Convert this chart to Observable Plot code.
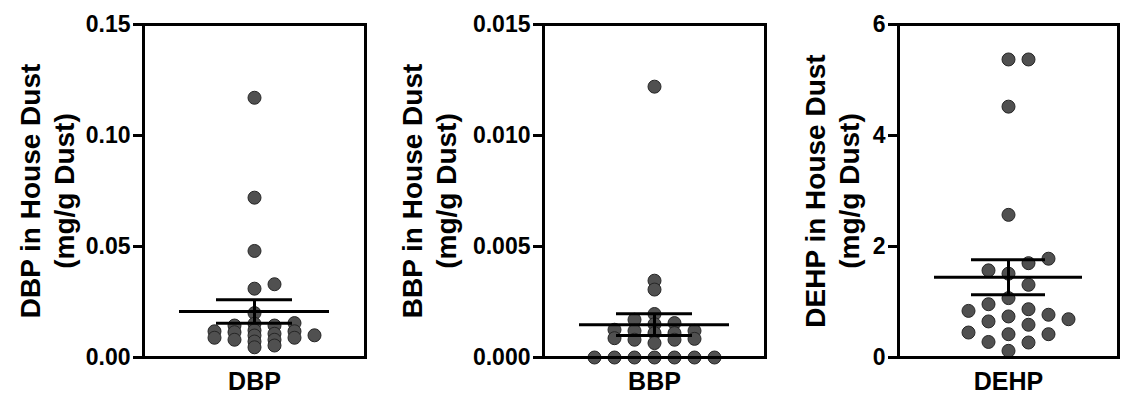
<!DOCTYPE html>
<html><head><meta charset="utf-8">
<script src="https://cdn.jsdelivr.net/npm/d3@7"></script>
<script src="https://cdn.jsdelivr.net/npm/@observablehq/plot@0.6"></script>
<style>
body{margin:0;background:#fff;}
#chart{position:relative;width:1122px;height:399px;overflow:hidden;background:#fff;}
#chart svg{position:absolute;top:0;overflow:visible;}
#chart svg g[aria-label^="y-axis"] path,#chart svg g[aria-label^="y-axis"] line{stroke-width:3px;}
#chart svg g[aria-label^="y-axis"] text{font-size:23px;font-weight:bold;}
</style></head><body><div id="chart"></div>
<script>
// ---- data ----
const compounds = ["DBP", "BBP", "DEHP"];
const yTitles = ["DBP in House Dust\n(mg/g Dust)", "BBP in House Dust\n(mg/g Dust)", "DEHP in House Dust\n(mg/g Dust)"];
const dbpValues = [0.117, 0.072, 0.048, 0.033, 0.031, 0.020,
  0.0155, 0.0152, 0.0144, 0.0144, 0.0122, 0.0118, 0.0118, 0.0114, 0.0107, 0.0100,
  0.0099, 0.0089, 0.0089, 0.0080, 0.0080, 0.0072, 0.0054, 0.0046];
const bbpValues = [0.0122, 0.00346, 0.00306, 0.00196, 0.0017, 0.00155, 0.0015,
  0.00125, 0.0012, 0.0012, 0.0011, 0.0011, 0.00087, 0.00084, 0.0008, 0.0008, 0.00065,
  0, 0, 0, 0, 0, 0, 0];
const dehpValues = [5.37, 5.37, 4.52, 2.57, 1.78, 1.70, 1.57, 1.51, 1.31, 1.07, 0.96,
  0.87, 0.84, 0.77, 0.74, 0.69, 0.65, 0.59, 0.45, 0.42, 0.42, 0.28, 0.27, 0.12];
const seriesValues = [dbpValues, bbpValues, dehpValues];
const meanValues = [0.0207, 0.00148, 1.447];
const semValues = [0.0053, 0.00049, 0.316];
const yMax = [0.15, 0.015, 6];
const tickValues = [[0, 0.05, 0.10, 0.15], [0, 0.005, 0.010, 0.015], [0, 2, 4, 6]];
const tickLabels = [["0.00", "0.05", "0.10", "0.15"], ["0.000", "0.005", "0.010", "0.015"], ["0", "2", "4", "6"]];

// ---- layout / style ----
const HEIGHT = 399, MT = 24, MB = 42;
const layout = [
  {left: 0, width: 370, marginLeft: 143, marginRight: 5, titleDx: -97, rowPx: 5, xHalf: 5.55},
  {left: 370, width: 400, marginLeft: 173, marginRight: 5, titleDx: -115, rowPx: 6, xHalf: 5.55},
  {left: 770, width: 352, marginLeft: 128, marginRight: 4, titleDx: -67, rowPx: 15, xHalf: 5.5}
];
const FONT = "'Liberation Sans', Arial, Helvetica, sans-serif";
const container = document.getElementById("chart");

// scatter-column layout: each point takes the slot nearest the centre that is free
// of points closer than rowPx vertically (slots are then mapped through the x scale)
function columnLayout(values, yMaxV, rowPx) {
  const k = (HEIGHT - MT - MB) / yMaxV;
  const order = d3.range(values.length).sort((a, b) => values[a] - values[b]);
  const slot = new Array(values.length);
  const placed = [];
  for (const i of order) {
    const y = values[i] * k;
    for (let s = 0; ; s++) {
      const c = s === 0 ? 0 : (s % 2 ? (s + 1) / 2 : -s / 2);
      if (!placed.some(p => p.slot === c && Math.abs(p.y - y) < rowPx)) {
        slot[i] = c; placed.push({slot: c, y}); break;
      }
    }
  }
  return values.map((v, i) => ({value: v, slot: slot[i]}));
}

compounds.forEach((name, i) => {
  const L = layout[i];
  const mean = meanValues[i], sem = semValues[i];
  const pts = columnLayout(seriesValues[i], yMax[i], L.rowPx);
  const svg = Plot.plot({
    width: L.width,
    height: HEIGHT,
    marginLeft: L.marginLeft,
    marginRight: L.marginRight,
    marginTop: MT,
    marginBottom: MB,
    style: {fontFamily: FONT, fontWeight: "bold", fontSize: "23px", color: "#000", background: "transparent", overflow: "visible"},
    x: {domain: [-L.xHalf, L.xHalf], axis: null},
    y: {
      domain: [0, yMax[i]],
      ticks: tickValues[i],
      tickFormat: d => tickLabels[i][tickValues[i].findIndex(t => Math.abs(t - d) < 1e-12)],
      tickSize: 10,
      tickPadding: 3,
      label: null
    },
    marks: [
      Plot.dot(pts, {x: "slot", y: "value", r: 6.5, fill: "#505050", stroke: "#262626", strokeWidth: 1}),
      Plot.ruleY([mean], {insetLeft: 36, insetRight: 36, stroke: "#000", strokeWidth: 3}),
      Plot.ruleY([mean - sem, mean + sem], {insetLeft: 73, insetRight: 73, stroke: "#000", strokeWidth: 3}),
      Plot.ruleX([{lo: mean - sem, hi: mean + sem}], {x: () => 0, y1: "lo", y2: "hi", stroke: "#000", strokeWidth: 3}),
      Plot.frame({stroke: "#000", strokeWidth: 3}),
      Plot.text([yTitles[i]], {text: d => d, frameAnchor: "left", rotate: -90, dx: L.titleDx,
        textAnchor: "middle", lineAnchor: "middle", lineHeight: 1.2, fontSize: 28, fontWeight: "bold", fill: "#000"}),
      Plot.text([name], {text: d => d, frameAnchor: "bottom", lineAnchor: "top", dy: 15,
        fontSize: 25, fontWeight: "bold", fill: "#000"})
    ]
  });
  svg.style.left = L.left + "px";
  container.appendChild(svg);
});
</script></body></html>
